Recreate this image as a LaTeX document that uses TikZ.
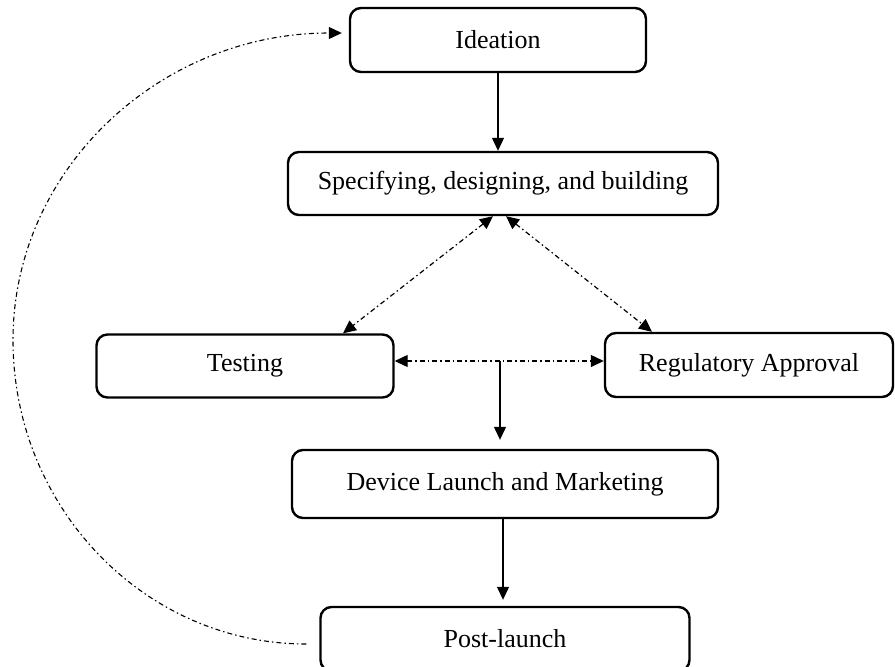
\documentclass[tikz,border=0pt]{standalone}
\usepackage{fontspec}
\setmainfont{Liberation Serif}
\usetikzlibrary{arrows.meta}
\begin{document}
\begin{tikzpicture}[x=1pt,y=-1pt,
  stagebox/.style={draw=black, line width=2.4pt, rounded corners=11pt, inner sep=0pt,
    align=center, font=\fontsize{26}{30}\selectfont},
  solidarrow/.style={line width=1.2pt, -{Triangle[length=13pt,width=12pt]}},
  dotarrow/.style={line width=1.2pt, dash pattern=on 5pt off 3pt on 1.5pt off 3pt,
    {Triangle[length=13pt,width=12pt]}-{Triangle[length=13pt,width=12pt]}},
  looparrow/.style={line width=1.1pt, dash pattern=on 5pt off 3pt on 1.5pt off 3pt,
    -{Triangle[length=13pt,width=12pt]}}]
\useasboundingbox (0,0) rectangle (895,667);

\node[stagebox, minimum width=296pt, minimum height=64pt] (ideation) at (498,40) {Ideation};
\node[stagebox, minimum width=430pt, minimum height=63pt] (spec) at (503,183.5) {Specifying, designing, and building};
\node[stagebox, minimum width=297pt, minimum height=63pt] (testing) at (245,366) {Testing};
\node[stagebox, minimum width=288pt, minimum height=64pt] (reg) at (749,365) {Regulatory Approval};
\node[stagebox, minimum width=426pt, minimum height=68pt] (device) at (505,484) {Device Launch and Marketing};
\node[stagebox, minimum width=369pt, minimum height=64pt] (post) at (505,639) {Post-launch};

\coordinate (hmid) at (500,361);

\draw[solidarrow] (ideation.south) -- (ideation.south |- spec.north);
\draw[dotarrow] ([xshift=-10pt]spec.south) -- ([xshift=98pt]testing.north);
\draw[dotarrow] ([xshift=3pt]spec.south) -- ([xshift=-97pt]reg.north);
\draw[dotarrow] ([yshift=5pt]testing.east) -- ([yshift=4pt]reg.west);
\draw[solidarrow, shorten >=9pt] (hmid) -- (hmid |- device.north);
\draw[solidarrow, shorten >=6pt] ([xshift=-2pt]device.south) -- ([xshift=-2pt]device.south |- post.north);
\draw[looparrow, shorten <=13pt, shorten >=7pt] ([yshift=-5pt]post.west)
  .. controls (145,644) and (13,508) .. (13,340)
  .. controls (13,170) and (159,33) .. ([yshift=7pt]ideation.west);
\end{tikzpicture}
\end{document}
